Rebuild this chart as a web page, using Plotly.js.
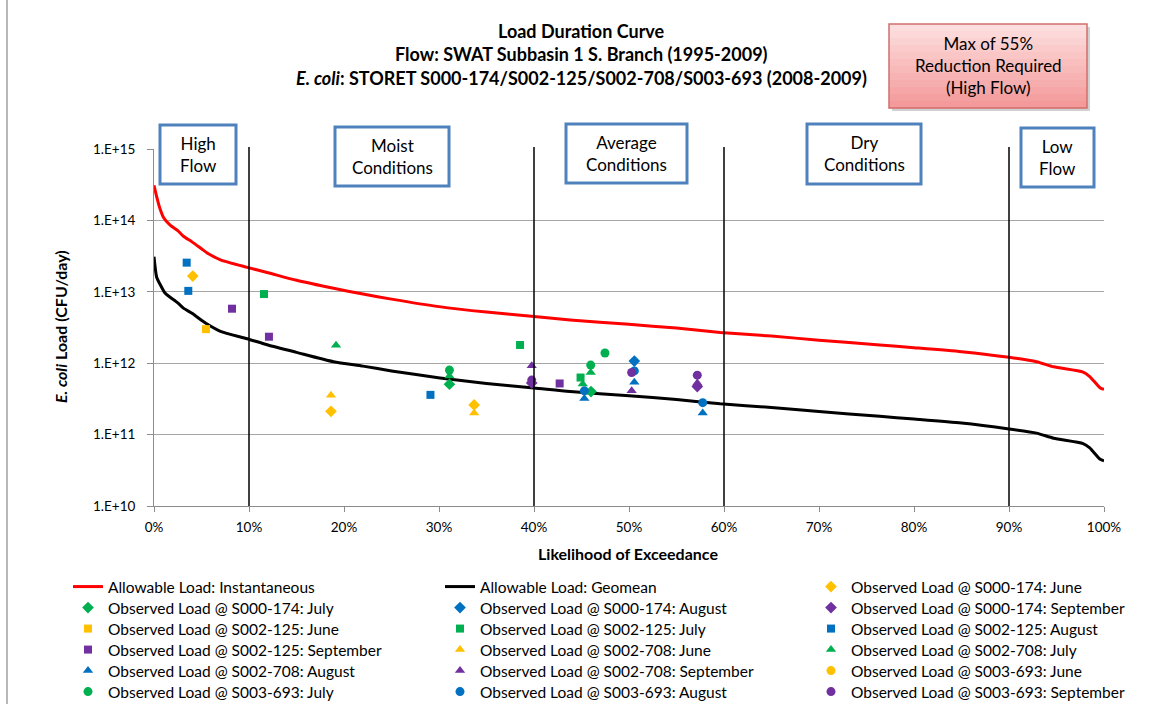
<!DOCTYPE html>
<html>
<head>
<meta charset="utf-8">
<script src="https://cdn.plot.ly/plotly-3.0.1.min.js"></script>
<style>html,body{margin:0;padding:0;background:#fff;}#chart{width:1153px;height:704px;}</style>
</head>
<body>
<div id="chart"></div>
<script>
// ---- Data ----
const instX = [0, 0.3, 0.6, 1, 1.7, 2.5, 3.1, 4, 5, 5.6, 7, 9.8, 12, 15, 18.9, 22, 25, 30, 35, 40, 43.8, 50, 55, 59.6, 65, 70, 76.4, 80, 85, 90, 92.9, 94.7, 97.8, 98.5, 99.6, 100];
const instY = [3.1e14, 2.1e14, 1.5e14, 1.1e14, 8.6e13, 7.2e13, 6.0e13, 5.0e13, 4.0e13, 3.5e13, 2.8e13, 2.2e13, 1.85e13, 1.45e13, 1.12e13, 9.3e12, 7.9e12, 6.2e12, 5.2e12, 4.5e12, 4.03e12, 3.5e12, 3.1e12, 2.7e12, 2.4e12, 2.1e12, 1.8e12, 1.65e12, 1.45e12, 1.21e12, 1.05e12, 8.9e11, 7.5e11, 6.5e11, 4.5e11, 4.3e11];
const geoX = [0, 0.28, 0.6, 1.16, 1.7, 2.5, 3.1, 4, 5, 5.5, 7, 9.8, 12, 15, 18.9, 22, 25, 30.1, 35, 40, 43.8, 50, 55, 59.6, 65, 70, 76.4, 80, 85, 90, 92.9, 94.7, 97.8, 98.5, 99.6, 100];
const geoY = [3.1e13, 1.6e13, 1.3e13, 9.6e12, 8.4e12, 7.0e12, 5.9e12, 5.0e12, 4.0e12, 3.6e12, 2.8e12, 2.2e12, 1.8e12, 1.42e12, 1.05e12, 9.1e11, 7.8e11, 6.2e11, 5.2e11, 4.5e11, 4.0e11, 3.5e11, 3.1e11, 2.7e11, 2.4e11, 2.1e11, 1.8e11, 1.65e11, 1.45e11, 1.2e11, 1.05e11, 8.9e10, 7.5e10, 6.5e10, 4.5e10, 4.3e10];

const s000_jun_x = [4.08, 18.63, 33.7];   const s000_jun_y = [1.66e13, 2.12e11, 2.6e11];
const s000_jul_x = [31.1, 46.0];          const s000_jul_y = [5.07e11, 4.0e11];
const s000_aug_x = [50.56];               const s000_aug_y = [1.07e12];
const s000_sep_x = [39.76, 57.19];        const s000_sep_y = [5.3e11, 4.7e11];
const s002_jun_x = [5.47];                const s002_jun_y = [3.0e12];
const s002_jul_x = [11.58, 38.53, 44.9];  const s002_jul_y = [9.3e12, 1.8e12, 6.3e11];
const s002_aug_x = [3.44, 3.61, 29.1];    const s002_aug_y = [2.56e13, 1.03e13, 3.6e11];
const s002_sep_x = [8.21, 12.1, 42.7];    const s002_sep_y = [5.8e12, 2.35e12, 5.2e11];
const s708_jun_x = [18.63, 33.7];         const s708_jun_y = [3.55e11, 2.0e11];
const s708_jul_x = [19.16, 31.1, 45.97, 45.13]; const s708_jul_y = [1.78e12, 6.6e11, 7.4e11, 5.1e11];
const s708_aug_x = [45.3, 50.56, 57.76];  const s708_aug_y = [3.2e11, 5.4e11, 2.0e11];
const s708_sep_x = [39.76, 50.28, 57.19]; const s708_sep_y = [9.2e11, 4.1e11, 5.3e11];
const s693_jun_x = [null];                const s693_jun_y = [null];   // no visible observation
const s693_jul_x = [31.1, 47.47, 45.97];  const s693_jul_y = [8.0e11, 1.39e12, 9.4e11];
const s693_aug_x = [45.3, 50.56, 57.76];  const s693_aug_y = [4.1e11, 7.8e11, 2.8e11];
const s693_sep_x = [39.76, 50.28, 57.19]; const s693_sep_y = [5.8e11, 7.4e11, 6.8e11];

const xTickVals = [0,10,20,30,40,50,60,70,80,90,100];
const xTickText = ['0%','10%','20%','30%','40%','50%','60%','70%','80%','90%','100%'];
const yTickVals = [1e10,1e11,1e12,1e13,1e14,1e15];
const yTickText = ['1.E+10','1.E+11','1.E+12','1.E+13','1.E+14','1.E+15'];
const zoneLines = [10, 40, 60, 90];
const zoneLabels = ['High<br>Flow','Moist<br>Conditions','Average<br>Conditions','Dry<br>Conditions','Low<br>Flow'];

// ---- Styling ----
const FONT = 'Lato, "Open Sans", sans-serif';
const C = {jun:'#ffc000', jul:'#00b050', aug:'#0070c0', sep:'#7030a0'};
const SYM = {s000:'diamond', s002:'square', s708:'triangle-up', s693:'circle'};
const MS = {diamond:9, square:8, 'triangle-up':9, circle:9};

function pts(name, x, y, sym, col){
  return {type:'scatter', mode:'markers', name:name, x:x, y:y,
    marker:{symbol:sym, color:col, size:MS[sym], line:{width:0}}};
}

const traces = [
  {type:'scatter', mode:'lines', name:'Allowable Load: Instantaneous', x:instX, y:instY, line:{color:'#ff0000', width:3, shape:'spline', smoothing:0.6}},
  {type:'scatter', mode:'lines', name:'Allowable Load: Geomean', x:geoX, y:geoY, line:{color:'#000000', width:3, shape:'spline', smoothing:0.6}},
  pts('Observed Load @ S000-174: June', s000_jun_x, s000_jun_y, SYM.s000, C.jun),
  pts('Observed Load @ S000-174: July', s000_jul_x, s000_jul_y, SYM.s000, C.jul),
  pts('Observed Load @ S000-174: August', s000_aug_x, s000_aug_y, SYM.s000, C.aug),
  pts('Observed Load @ S000-174: September', s000_sep_x, s000_sep_y, SYM.s000, C.sep),
  pts('Observed Load @ S002-125: June', s002_jun_x, s002_jun_y, SYM.s002, C.jun),
  pts('Observed Load @ S002-125: July', s002_jul_x, s002_jul_y, SYM.s002, C.jul),
  pts('Observed Load @ S002-125: August', s002_aug_x, s002_aug_y, SYM.s002, C.aug),
  pts('Observed Load @ S002-125: September', s002_sep_x, s002_sep_y, SYM.s002, C.sep),
  pts('Observed Load @ S002-708: June', s708_jun_x, s708_jun_y, SYM.s708, C.jun),
  pts('Observed Load @ S002-708: July', s708_jul_x, s708_jul_y, SYM.s708, C.jul),
  pts('Observed Load @ S002-708: August', s708_aug_x, s708_aug_y, SYM.s708, C.aug),
  pts('Observed Load @ S002-708: September', s708_sep_x, s708_sep_y, SYM.s708, C.sep),
  pts('Observed Load @ S003-693: June', s693_jun_x, s693_jun_y, SYM.s693, C.jun),
  pts('Observed Load @ S003-693: July', s693_jul_x, s693_jul_y, SYM.s693, C.jul),
  pts('Observed Load @ S003-693: August', s693_aug_x, s693_aug_y, SYM.s693, C.aug),
  pts('Observed Load @ S003-693: September', s693_sep_x, s693_sep_y, SYM.s693, C.sep)
];

// pixel -> paper helpers (plot area: left 154, width 950, bottom 506, height 357)
const L = 154, W = 950, B = 506, H = 357;
const px = v => (v - L) / W;
const py = v => (B - v) / H;

const layout = {
  width:1153, height:704,
  margin:{l:L, r:1153-L-W, t:B-H, b:704-B, pad:0, autoexpand:false},
  paper_bgcolor:'#fff', plot_bgcolor:'#fff',
  font:{family:FONT, size:14, color:'#000'},
  showlegend:true,
  xaxis:{range:[0,100], tickvals:xTickVals, ticktext:xTickText, showgrid:false, zeroline:false,
    showline:true, linecolor:'#8c8c8c', linewidth:1, ticks:'outside', ticklen:5, tickcolor:'#8c8c8c',
    ticklabelstandoff:4, tickfont:{family:FONT, size:13.5, color:'#000'}, fixedrange:true},
  yaxis:{type:'log', range:[10,15], tickvals:yTickVals, ticktext:yTickText, showgrid:true, gridcolor:'#a6a6a6', gridwidth:1,
    showline:true, linecolor:'#8c8c8c', linewidth:1, ticks:'outside', ticklen:6, tickcolor:'#8c8c8c',
    ticklabelstandoff:9, tickfont:{family:FONT, size:13.5, color:'#000'}, fixedrange:true}
};

// one legend per entry, laid out as a 3-column grid (row-major, like the reference)
const legCols = [68, 440, 811];
const legRows = [587, 608, 629, 650, 671, 692];
traces.forEach((t, i) => {
  const key = i === 0 ? 'legend' : 'legend' + (i + 1);
  t.legend = key;
  layout[key] = {x:px(legCols[i % 3]), xanchor:'left', y:py(legRows[Math.floor(i / 3)]), yanchor:'middle',
    orientation:'v', bgcolor:'rgba(0,0,0,0)', borderwidth:0, itemwidth:30,
    font:{family:FONT, size:15.5, color:'#000'}};
});

const shapes = [];
const annotations = [];

// frame line on left
shapes.push({type:'line', xref:'paper', yref:'paper', x0:px(7), x1:px(7), y0:py(0), y1:py(704), line:{color:'#a0a0a0', width:1.5}});

// zone separator lines
zoneLines.forEach(v => shapes.push({type:'line', xref:'x', yref:'paper', x0:v, x1:v, y0:0, y1:py(147), line:{color:'#000', width:1.5}}));

// zone label boxes
const boxes = [[160,236,125,184],[335,449,127,186],[566,687,124,183],[807,921,124,184],[1021,1094,128,187]];
boxes.forEach((b,i) => {
  shapes.push({type:'rect', xref:'paper', yref:'paper', x0:px(b[0]), x1:px(b[1]), y0:py(b[3]), y1:py(b[2]),
    fillcolor:'#ffffff', line:{color:'#4f81bd', width:3}, layer:'above'});
  annotations.push({xref:'paper', yref:'paper', x:px((b[0]+b[1])/2), y:py((b[2]+b[3])/2), text:zoneLabels[i],
    showarrow:false, font:{family:FONT, size:17, color:'#000'}, xanchor:'center', yanchor:'middle'});
});

// red callout box with gradient
const rb = [889, 1087, 24, 108];
shapes.push({type:'rect', xref:'paper', yref:'paper', x0:px(rb[0]+3), x1:px(rb[1]+3), y0:py(rb[3]+3), y1:py(rb[2]+3),
  fillcolor:'rgba(0,0,0,0.18)', line:{width:0}, layer:'above'});
const nG = 12;
for (let i = 0; i < nG; i++) {
  const t = i / (nG - 1);
  const r = 253 - Math.round(t * 9), g = 222 - Math.round(t * 68), bl = 222 - Math.round(t * 68);
  const y0 = rb[2] + (rb[3] - rb[2]) * i / nG, y1 = rb[2] + (rb[3] - rb[2]) * (i + 1) / nG;
  shapes.push({type:'rect', xref:'paper', yref:'paper', x0:px(rb[0]), x1:px(rb[1]), y0:py(y1 + 0.5), y1:py(y0),
    fillcolor:`rgb(${r},${g},${bl})`, line:{width:0}, layer:'above'});
}
shapes.push({type:'rect', xref:'paper', yref:'paper', x0:px(rb[0]), x1:px(rb[1]), y0:py(rb[3]), y1:py(rb[2]),
  fillcolor:'rgba(0,0,0,0)', line:{color:'#d0706e', width:1.5}, layer:'above'});
annotations.push({xref:'paper', yref:'paper', x:px((rb[0]+rb[1])/2), y:py(66), text:'Max of 55%<br>Reduction Required<br>(High Flow)',
  showarrow:false, font:{family:FONT, size:17, color:'#000'}, xanchor:'center', yanchor:'middle'});

// title lines
const titleLines = ['<b>Load Duration Curve</b>', '<b>Flow: SWAT Subbasin 1 S. Branch (1995-2009)</b>',
  '<b><i>E. coli</i>: STORET S000-174/S002-125/S002-708/S003-693 (2008-2009)</b>'];
const titleY = [31, 54, 78];
titleLines.forEach((t,i) => annotations.push({xref:'paper', yref:'paper', x:px(581), y:py(titleY[i]), text:t,
  showarrow:false, font:{family:FONT, size:18, color:'#000'}, xanchor:'center', yanchor:'middle'}));

// axis titles
annotations.push({xref:'paper', yref:'paper', x:px(628), y:py(553), text:'<b>Likelihood of Exceedance</b>',
  showarrow:false, font:{family:FONT, size:16, color:'#000'}, xanchor:'center', yanchor:'middle'});
annotations.push({xref:'paper', yref:'paper', x:px(60), y:py(327), text:'<b><i>E. coli</i> Load (CFU/day)</b>', textangle:-90,
  showarrow:false, font:{family:FONT, size:16, color:'#000'}, xanchor:'center', yanchor:'middle'});

layout.shapes = shapes;
layout.annotations = annotations;

Plotly.newPlot('chart', traces, layout, {displayModeBar:false, staticPlot:true});
</script>
</body>
</html>
